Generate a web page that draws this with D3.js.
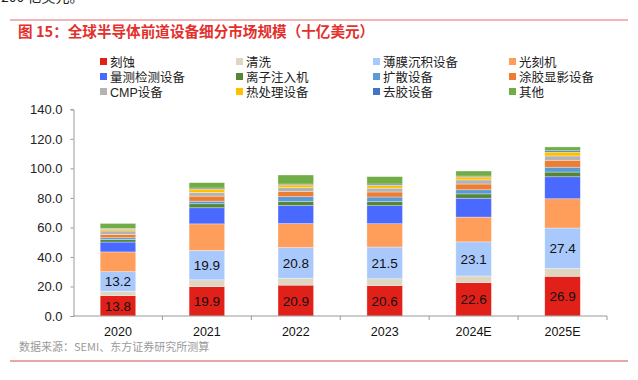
<!DOCTYPE html>
<html><head><meta charset="utf-8">
<script src="https://cdn.jsdelivr.net/npm/d3@7"></script>
<style>
html,body{margin:0;padding:0;background:#fff;}
svg{display:block;font-family:"Liberation Sans","Noto Sans CJK SC",sans-serif;}
</style></head>
<body><svg id="chart" width="638" height="380"></svg>
<script>
const categories = ["2020","2021","2022","2023","2024E","2025E"];
const seriesNames = ["刻蚀","清洗","薄膜沉积设备","光刻机","量测检测设备","离子注入机","扩散设备","涂胶显影设备","CMP设备","热处理设备","去胶设备","其他"];
const seriesColors = ["#E2201A","#DED6C1","#A9C9FC","#FF9D5B","#4A69FF","#558536","#5B9BD5","#ED7D31","#B3B3B3","#FFC000","#4472C4","#70AD47"];
const etch      = [13.8,19.9,20.9,20.6,22.6,26.9];
const cleaning  = [3.0,4.6,4.7,4.6,4.5,5.3];
const thinFilm  = [13.2,19.9,20.8,21.5,23.1,27.4];
const litho     = [13.4,18.0,16.2,15.8,16.8,19.8];
const metrology = [6.7,10.9,12.2,12.2,12.8,14.9];
const ionImpl   = [1.7,2.7,2.6,2.7,2.9,3.2];
const diffusion = [1.2,1.8,3.4,3.2,2.8,3.3];
const coating   = [2.2,3.4,3.4,3.4,3.9,4.7];
const cmp       = [2.4,2.5,2.7,2.6,2.8,2.9];
const heat      = [1.2,2.3,1.9,2.0,2.0,2.6];
const strip     = [0.6,0.7,0.6,0.8,0.6,0.9];
const others    = [3.3,3.6,6.1,5.0,3.4,2.6];
const seriesValues = [etch,cleaning,thinFilm,litho,metrology,ionImpl,diffusion,coating,cmp,heat,strip,others];
const labeledSeries = [0,2];
const yTicks = [0,20,40,60,80,100,120,140];

const svg = d3.select("#chart");

// partial previous-paragraph text at top (cut off in the reference)
svg.append("text").attr("x",1).attr("y",2).attr("font-size",14).attr("fill","#222")
  .attr("font-family","Noto Sans CJK SC").text("200 亿美元。");

// top/bottom rules
svg.append("line").attr("x1",10).attr("x2",628).attr("y1",20).attr("y2",20).attr("stroke","#EE9C9C").attr("stroke-width",1.5);
svg.append("line").attr("x1",10).attr("x2",628).attr("y1",361).attr("y2",361).attr("stroke","#E38787").attr("stroke-width",1.5);

svg.append("text").attr("x",18).attr("y",37).attr("font-size",14.6).attr("font-weight","bold")
  .attr("fill","#E3302C").attr("font-family","Noto Sans CJK SC")
  .text("图 15：全球半导体前道设备细分市场规模（十亿美元）");

svg.append("text").attr("x",19).attr("y",351).attr("font-size",11).attr("fill","#9a9a9a")
  .attr("font-family","Noto Sans CJK SC").text("数据来源：SEMI、东方证券研究所测算");

// legend
const legCols = [100,236,373,509], legRows = [62,77,92];
seriesNames.forEach((n,i)=>{
  const cx = legCols[i%4], cy = legRows[Math.floor(i/4)];
  svg.append("rect").attr("x",cx).attr("y",cy-4).attr("width",7).attr("height",7).attr("fill",seriesColors[i]);
  svg.append("text").attr("x",cx+10).attr("y",cy+4.5).attr("font-size",12.5).attr("fill","#222")
    .attr("font-family","'Liberation Sans','Noto Sans CJK SC'").text(n);
});

// scales
const x = d3.scaleBand().domain(categories).range([73.5,607]).paddingInner(0.6).paddingOuter(0.3);
const y = d3.scaleLinear().domain([0,140]).range([316,109.3]);

// stack
const rows = categories.map((c,j)=>{ const o={cat:c}; seriesNames.forEach((n,i)=>o[n]=seriesValues[i][j]); return o; });
const stacked = d3.stack().keys(seriesNames)(rows);

const g = svg.append("g");
stacked.forEach((layer,i)=>{
  g.selectAll(null).data(layer).enter().append("rect")
    .attr("x",d=>x(d.data.cat)).attr("width",x.bandwidth())
    .attr("y",d=>y(d[1])).attr("height",d=>y(d[0])-y(d[1]))
    .attr("fill",seriesColors[i]).attr("stroke","#ffffff").attr("stroke-opacity",0.55).attr("stroke-width",0.6);
});
labeledSeries.forEach(i=>{
  g.selectAll(null).data(stacked[i]).enter().append("text")
    .attr("x",d=>x(d.data.cat)+x.bandwidth()/2).attr("y",d=>(y(d[0])+y(d[1]))/2+5)
    .attr("text-anchor","middle").attr("font-size",13.5).attr("fill","#111")
    .text(d=>(d[1]-d[0]).toFixed(1));
});

// y axis
const yAxis = d3.axisLeft(y).tickValues(yTicks).tickFormat(d=>d.toFixed(1)).tickSize(3).tickPadding(8);
const ya = svg.append("g").attr("transform","translate(73.5,0)").call(yAxis);
ya.select(".domain").attr("stroke","#999");
ya.selectAll(".tick line").attr("stroke","#999");
ya.selectAll("text").attr("font-size",13).attr("fill","#222").attr("font-family","Liberation Sans");

// x axis
const xa = svg.append("g").attr("transform","translate(0,316)");
xa.append("line").attr("x1",73.5).attr("x2",607).attr("stroke","#999");
const bounds = categories.map(c=>x(c)-x.step()*x.paddingInner()/2).slice(1).concat([607]);
xa.selectAll(null).data(bounds).enter().append("line")
  .attr("x1",d=>d).attr("x2",d=>d).attr("y1",0).attr("y2",4).attr("stroke","#999");
xa.selectAll(null).data(categories).enter().append("text")
  .attr("x",d=>x(d)+x.bandwidth()/2).attr("y",20).attr("text-anchor","middle")
  .attr("font-size",12.5).attr("fill","#111").text(d=>d);
</script></body></html>
